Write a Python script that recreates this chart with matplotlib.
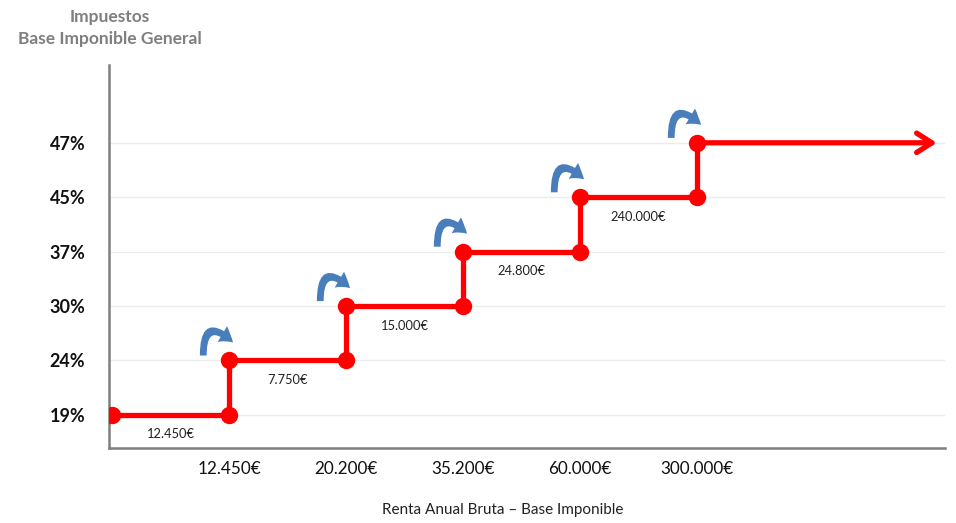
import matplotlib
matplotlib.use("Agg")
import matplotlib.pyplot as plt
from matplotlib.patches import FancyArrowPatch

plt.rcParams['font.family'] = ['Lato', 'DejaVu Sans']

# ---- data ----
rates = ["19%", "24%", "30%", "37%", "45%", "47%"]
thresholds = ["12.450€", "20.200€", "35.200€", "60.000€", "300.000€"]
bracket_widths = ["12.450€", "7.750€", "15.000€", "24.800€", "240.000€"]
arrow_end = 7.05  # how far the last bracket extends (open-ended)

fig = plt.figure(figsize=(9.56, 5.23), dpi=100)
ax = fig.add_axes([0.114, 0.1434, 0.8745, 0.7323])

n = len(rates)
# step path
xs, ys = [0], [0]
for i in range(1, n):
    xs += [i, i]
    ys += [i - 1, i]

red = "#ff0000"
ax.plot(xs, ys, color=red, lw=3.8, solid_joinstyle='miter', zorder=3)
ax.plot(xs, ys, 'o', color=red, ms=11.5, zorder=4)
ax.annotate("", xy=(arrow_end, n - 1), xytext=(n - 1, n - 1),
            arrowprops=dict(arrowstyle="->,head_length=1.1,head_width=0.7",
                            color=red, lw=3.8, shrinkA=0, shrinkB=0),
            zorder=3)

# blue curved arrows above each step-up
for i in range(1, n):
    p = FancyArrowPatch((i - 0.22, i + 0.09), (i + 0.035, i + 0.33),
                        connectionstyle="arc3,rad=-1.15",
                        arrowstyle="simple,tail_width=0.35,head_width=0.95,head_length=0.7",
                        mutation_scale=14, lw=0, color="#4a7ebb",
                        shrinkA=0, shrinkB=0, zorder=5)
    ax.add_patch(p)

# bracket width labels
for i, lab in enumerate(bracket_widths):
    ax.text(i + 0.5, i - 0.36, lab, ha='center', va='center',
            fontsize=9.3, color="#222222")

ax.set_xlim(-0.026, 7.12)
ax.set_ylim(-0.61, 6.43)

ax.set_yticks(range(n))
ax.set_yticklabels(rates, fontsize=13, fontweight='bold', color='#111111')
ax.set_xticks(range(1, n))
ax.set_xticklabels(thresholds, fontsize=12.3, color='#111111')
ax.tick_params(axis='y', length=0, pad=17)
ax.tick_params(axis='x', length=0, pad=9)

ax.grid(axis='y', color='#ececec', lw=1)
ax.set_axisbelow(True)
for s in ['top', 'right']:
    ax.spines[s].set_visible(False)
for s in ['left', 'bottom']:
    ax.spines[s].set_color('#7f7f7f')
    ax.spines[s].set_linewidth(1.8)

ax.set_xlabel("Renta Anual Bruta – Base Imponible", fontsize=11,
              color='#222222')
ax.xaxis.set_label_coords((503 - 109) / (945 - 109), -(503 - 448) / (448 - 65))

fig.text(110 / 956, 1 - 28 / 523, "Impuestos\nBase Imponible General",
         ha='center', va='center', fontsize=12.5, fontweight='bold',
         color='#7f7f7f', linespacing=1.4)

fig.savefig("out.png", dpi=100, facecolor='white')
